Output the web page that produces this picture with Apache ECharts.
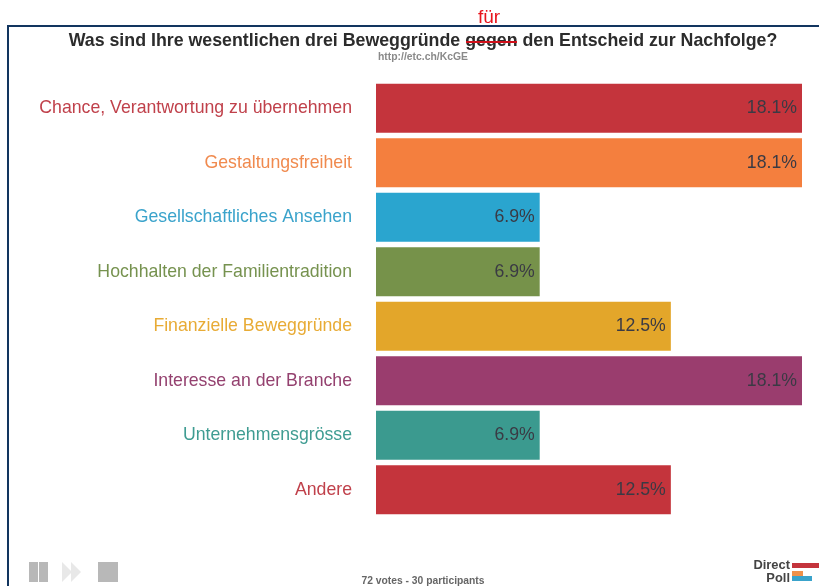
<!DOCTYPE html>
<html><head><meta charset="utf-8">
<style>html,body{margin:0;padding:0;background:#fff}#c{width:819px;height:586px}</style>
<script src="https://cdn.jsdelivr.net/npm/echarts@6/dist/echarts.min.js"></script>
</head><body><div id="c"></div>
<script>
const categories = ["Chance, Verantwortung zu übernehmen","Gestaltungsfreiheit","Gesellschaftliches Ansehen","Hochhalten der Familientradition","Finanzielle Beweggründe","Interesse an der Branche","Unternehmensgrösse","Andere"];
const shares = [18.06,18.06,6.94,6.94,12.5,18.06,6.94,12.5];
const barColors = ["#c4343c","#f47f3e","#2aa5cf","#76924a","#e3a62a","#9a3d6e","#3b9a8f","#c4343c"];
const labelColors = ["#c0414b","#f08a4e","#3aa3cb","#76924f","#e8ab35","#94416f","#3f9c92","#c0414b"];
const FONT = '"Liberation Sans", Arial, sans-serif';
const chart = echarts.init(document.getElementById('c'), null, {renderer:'canvas'});
const rect = (x,y,w,h,fill,z) => ({type:'rect',shape:{x,y,width:w,height:h},style:{fill},z:z||10,silent:true});
const text = (x,y,t,font,fill,align) => ({type:'text',x,y,style:{text:t,font,fill,textAlign:align||'center',textVerticalAlign:'middle'},z:10,silent:true});
chart.setOption({
  animation:false,
  backgroundColor:'#fff',
  grid:{left:376,right:17,top:81,height:436,containLabel:false},
  xAxis:{type:'value',min:0,max:18.06,show:false},
  yAxis:{type:'category',inverse:true,data:categories,
    axisLine:{show:false},axisTick:{show:false},
    axisLabel:{margin:24,fontFamily:FONT,fontSize:17.7,color:(v,i)=>labelColors[i]}},
  series:[{type:'bar',barWidth:49,
    data:shares.map((v,i)=>({value:v,itemStyle:{color:barColors[i]}})),
    label:{show:true,position:'insideRight',distance:5,fontFamily:FONT,fontSize:17.7,color:'#3a3a44',formatter:p=>p.value.toFixed(1)+'%'}}],
  graphic:[
    rect(7,25,812,2,'#12355f'),
    rect(7,25,2,561,'#12355f'),
    text(489,18,'für','19px '+FONT,'#e8141c'),
    text(423,41,'Was sind Ihre wesentlichen drei Beweggründe gegen den Entscheid zur Nachfolge?','bold 17.8px '+FONT,'#2c2c2c'),
    rect(466,41,51,2,'#d0101a',11),
    text(423,57,'http://etc.ch/KcGE','bold 10.4px '+FONT,'#8a8a8a'),
    text(423,581,'72 votes - 30 participants','bold 10.3px '+FONT,'#666'),
    rect(29,562,9,20,'#b8b8b8'), rect(39,562,9,20,'#b8b8b8'),
    {type:'polygon',shape:{points:[[62,562],[72,572],[62,582]]},style:{fill:'#e8e8e8'},z:10,silent:true},
    {type:'polygon',shape:{points:[[71,562],[81,572],[71,582]]},style:{fill:'#e8e8e8'},z:10,silent:true},
    rect(98,562,20,20,'#b8b8b8'),
    text(790,565,'Direct','bold 12.9px '+FONT,'#444','right'),
    text(790,578,'Poll','bold 12.9px '+FONT,'#444','right'),
    rect(792,563,27,5,'#c4343c'),
    rect(792,571,11,5,'#f0914a'),
    rect(792,576,20,5,'#3aa3cb')
  ]
});
</script></body></html>
